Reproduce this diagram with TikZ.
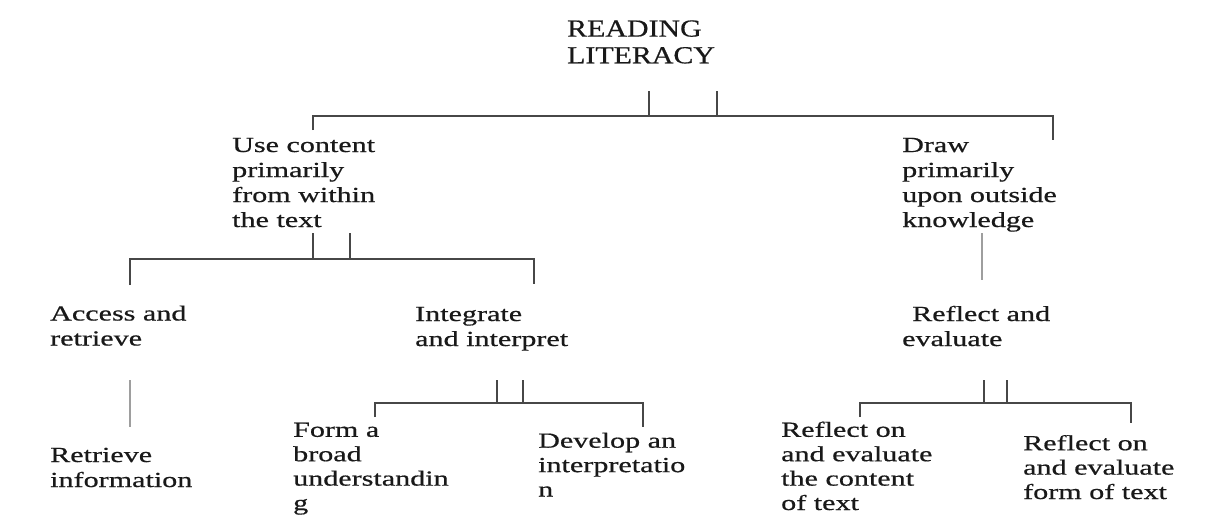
\documentclass[tikz,border=0pt]{standalone}
\usepackage{fontspec}
\setmainfont{Liberation Serif}
\newfontfamily\bodyfont{Liberation Serif}[FakeStretch=1.4,FakeBold=0.6]
\newfontfamily\titlefont{Liberation Serif}[FakeStretch=1.22,FakeBold=0.6]
\begin{document}
\begin{tikzpicture}[x=1pt,y=-1pt,
  lbl/.style={anchor=base west, inner sep=0pt, align=left, text=black!90,
    font=\bodyfont\fontsize{21.5}{25}\selectfont},
  lbltight/.style={lbl, font=\bodyfont\fontsize{21.5}{24.4}\selectfont},
  ttl/.style={anchor=base west, inner sep=0pt, align=left, text=black!90,
    font=\titlefont\fontsize{24.5}{26.7}\selectfont},
  link/.style={draw=black!72, line width=1.6pt},
  faint/.style={draw=black!38, line width=2pt}]
\useasboundingbox[fill=white] (0,0) rectangle (1211,523);

% ---- texts (anchored at the baseline of their last line) ----
\node[ttl] (root) at (567,63.3) {READING\\LITERACY};
\node[lbl] (use) at (232,227) {Use content\\primarily\\from within\\the text};
\node[lbl] (draw) at (902,227) {Draw\\primarily\\upon outside\\knowledge};
\node[lbl] (acc) at (50,345.5) {Access and\\retrieve};
\node[lbl] (int) at (415,346) {Integrate\\and interpret};
\node[lbl] (ref) at (902,346) {\hspace*{10pt}Reflect and\\evaluate};
\node[lbl] (ret) at (50,487) {Retrieve\\information};
\node[lbltight] (form) at (293,510) {Form a\\broad\\understandin\\g};
\node[lbltight] (dev) at (538,496.5) {Develop an\\interpretatio\\n};
\node[lbltight] (refc) at (781,510) {Reflect on\\and evaluate\\the content\\of text};
\node[lbltight] (reff) at (1023,499) {Reflect on\\and evaluate\\form of text};

% ---- connector points ----
\coordinate (rA) at (649,91);  \coordinate (rA2) at (649,116);
\coordinate (rB) at (717,91);  \coordinate (rB2) at (717,116);
\coordinate (bL) at (313,116); \coordinate (bLd) at (313,130);
\coordinate (bR) at (1053,116); \coordinate (bRd) at (1053,140);

\coordinate (uA) at (313,233); \coordinate (uA2) at (313,259);
\coordinate (uB) at (350,233); \coordinate (uB2) at (350,259);
\coordinate (uL) at (130,259); \coordinate (uLd) at (130,285);
\coordinate (uR) at (534,259); \coordinate (uRd) at (534,284);

\coordinate (kT) at (982,233); \coordinate (kB) at (982,280);
\coordinate (aT) at (130,380); \coordinate (aB) at (130,427);

\coordinate (iA) at (497,380); \coordinate (iA2) at (497,403);
\coordinate (iB) at (523,380); \coordinate (iB2) at (523,403);
\coordinate (iL) at (375,403); \coordinate (iLd) at (375,417);
\coordinate (iR) at (643,403); \coordinate (iRd) at (643,427);

\coordinate (eA) at (984,380); \coordinate (eA2) at (984,403);
\coordinate (eB) at (1007,380); \coordinate (eB2) at (1007,403);
\coordinate (eL) at (860,403); \coordinate (eLd) at (860,417);
\coordinate (eR) at (1131,403); \coordinate (eRd) at (1131,423);

% ---- connectors ----
\draw[link] (rA) -- (rA2);
\draw[link] (rB) -- (rB2);
\draw[link] (bLd) -- (bL) -- (bR) -- (bRd);

\draw[link] (uA) -- (uA2);
\draw[link] (uB) -- (uB2);
\draw[link] (uLd) -- (uL) -- (uR) -- (uRd);

\draw[faint] (kT) -- (kB);
\draw[faint] (aT) -- (aB);

\draw[link] (iA) -- (iA2);
\draw[link] (iB) -- (iB2);
\draw[link] (iLd) -- (iL) -- (iR) -- (iRd);

\draw[link] (eA) -- (eA2);
\draw[link] (eB) -- (eB2);
\draw[link] (eLd) -- (eL) -- (eR) -- (eRd);
\end{tikzpicture}
\end{document}
